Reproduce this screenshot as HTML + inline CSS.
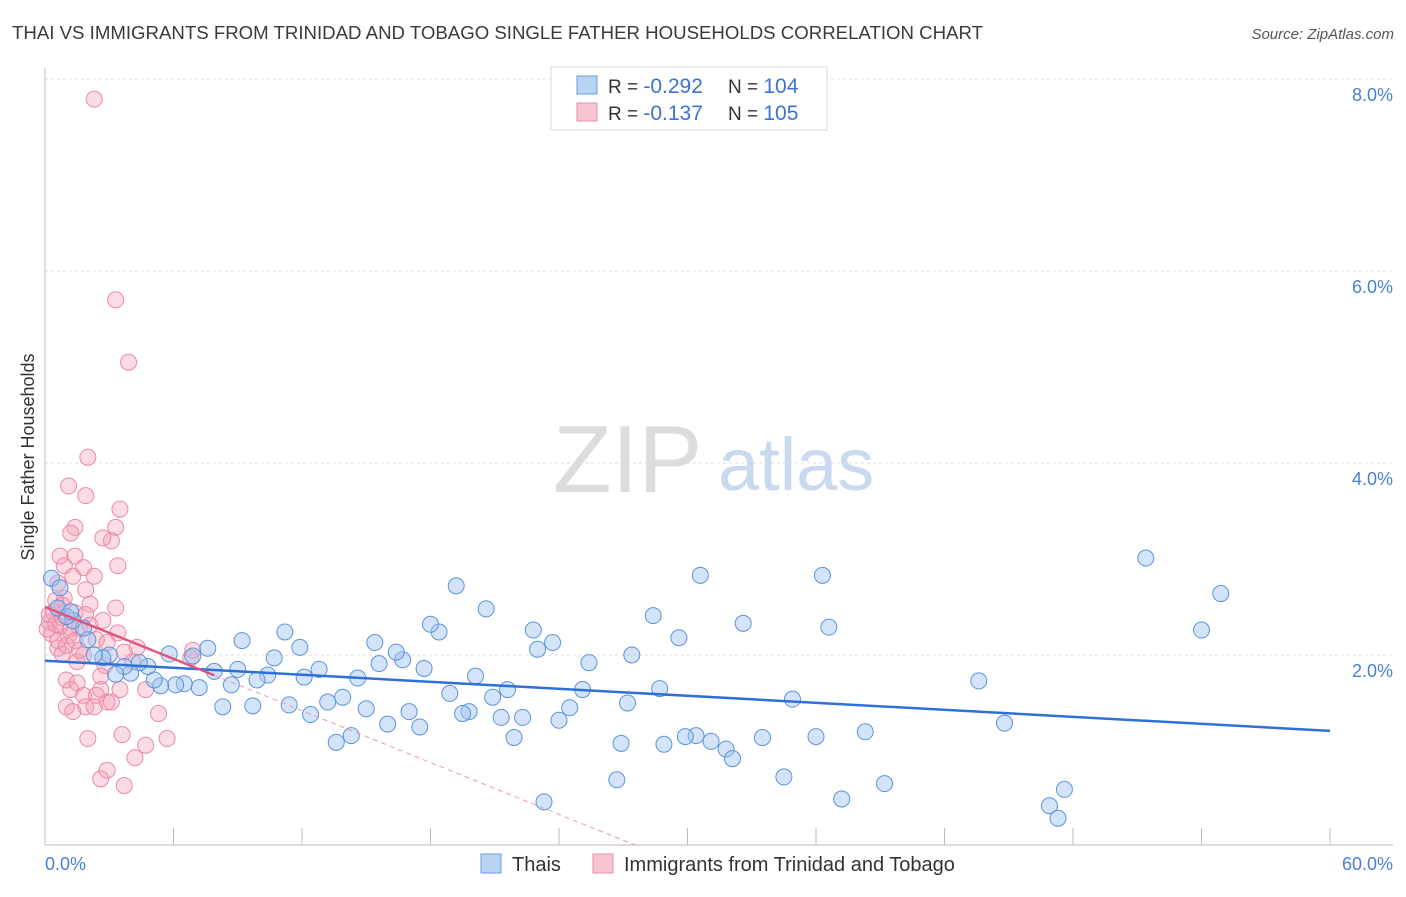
<!DOCTYPE html>
<html><head><meta charset="utf-8"><style>
body{margin:0;background:#fff;font-family:"Liberation Sans",sans-serif}
svg text{font-family:"Liberation Sans",sans-serif}
</style></head><body>
<svg id="chart" width="1406" height="892" xmlns="http://www.w3.org/2000/svg">
<text x="12" y="39" font-size="18" fill="#3a3a3a" textLength="971" lengthAdjust="spacingAndGlyphs">THAI VS IMMIGRANTS FROM TRINIDAD AND TOBAGO SINGLE FATHER HOUSEHOLDS CORRELATION CHART</text>
<text x="1394" y="39" font-size="15" fill="#555" font-style="italic" text-anchor="end">Source: ZipAtlas.com</text>
<g>
<text x="553" y="492" font-size="96" fill="#dcdcdc" font-family="Liberation Serif,serif">ZIP</text>
<text x="718" y="490" font-size="74" fill="#c9d9ef">atlas</text>
</g>
<g id="grid"></g>
<g id="axes"></g>
<g id="pts"></g>
<g id="trend"></g>
<text transform="translate(34,457) rotate(-90)" font-size="18" fill="#333" text-anchor="middle">Single Father Households</text>
<text x="45" y="870" font-size="18" fill="#4a7fd6">0.0%</text>
<text x="1393" y="870" font-size="18" fill="#4a7fd6" text-anchor="end">60.0%</text>
<g>
<rect x="551" y="67" width="276" height="63" fill="#fff" stroke="#d8d8d8"/>
<rect x="577" y="76" width="20" height="18" fill="#b9d3f3" stroke="#6b9be0"/>
<rect x="577" y="103" width="20" height="18" fill="#f8c6d3" stroke="#ea8ea8"/>
<text x="608" y="93" font-size="19" fill="#333">R = <tspan fill="#3b73d4" font-size="21">-0.292</tspan></text>
<text x="728" y="93" font-size="19" fill="#333">N = <tspan fill="#3b73d4" font-size="21">104</tspan></text>
<text x="608" y="120" font-size="19" fill="#333">R = <tspan fill="#3b73d4" font-size="21"> -0.137</tspan></text>
<text x="728" y="120" font-size="19" fill="#333">N = <tspan fill="#3b73d4" font-size="21">105</tspan></text>
</g>
<g>
<rect x="481" y="854" width="20" height="19" fill="#b9d3f3" stroke="#6b9be0"/>
<text x="512" y="871" font-size="20" fill="#333">Thais</text>
<rect x="593" y="854" width="20" height="19" fill="#f8c6d3" stroke="#ea8ea8"/>
<text x="624" y="871" font-size="20" fill="#333">Immigrants from Trinidad and Tobago</text>
</g>
</svg>
<script>
const yTicks=[2,4,6,8];
const yTickLabels=["2.0%","4.0%","6.0%","8.0%"];
const xTicks=[0,6,12,18,24,30,36,42,48,54,60];
const blueX=[51.4,54.9,54.0,43.6,44.8,47.6,46.9,47.3,36.3,36.6,38.3,39.2,37.2,36.0,34.9,34.5,33.5,30.6,32.6,29.6,28.4,27.4,28.7,27.2,30.4,29.9,31.1,31.8,32.1,28.9,26.9,26.7,25.4,25.1,24.5,24.0,23.3,23.7,23.0,22.8,22.3,21.9,21.6,21.3,20.9,20.6,20.1,19.8,19.5,18.9,19.2,18.4,18.0,17.7,17.5,17.0,16.7,16.4,15.6,15.4,16.0,15.0,14.6,13.9,13.2,14.3,13.6,12.8,12.1,12.4,11.9,11.2,11.4,10.7,10.4,9.9,9.7,9.2,9.0,8.7,8.3,7.9,7.6,7.2,6.9,6.5,6.1,5.8,5.4,5.1,4.8,4.4,4.0,3.7,3.3,3.0,2.7,2.3,2.0,1.8,1.3,1.0,0.6,0.3,0.7,1.2];
const blueY=[3.01,2.64,2.26,1.73,1.29,0.60,0.43,0.30,2.83,2.29,1.20,0.66,0.50,1.15,1.54,0.73,1.14,2.83,2.33,2.18,2.41,2.00,1.65,1.50,1.16,1.15,1.10,1.02,0.92,1.07,1.08,0.70,1.92,1.64,1.45,1.32,0.47,2.13,2.06,2.26,1.35,1.14,1.64,1.35,1.56,2.48,1.78,1.41,1.39,1.60,2.72,2.24,2.32,1.86,1.25,1.41,1.95,2.03,1.91,2.13,1.28,1.44,1.76,1.56,1.51,1.16,1.09,1.85,1.77,1.38,2.08,2.24,1.48,1.97,1.79,1.74,1.47,2.15,1.85,1.69,1.46,1.83,2.07,1.66,1.99,1.70,1.69,2.01,1.68,1.74,1.88,1.92,1.81,1.88,1.80,2.00,1.97,2.00,2.16,2.28,2.36,2.40,2.49,2.80,2.70,2.45];
const pinkX=[2.3,3.3,3.9,2.0,1.1,1.9,3.5,1.4,3.3,1.2,3.1,2.7,0.7,1.4,3.4,0.9,1.8,1.3,2.3,0.6,1.9,0.9,2.1,3.3,0.4,1.4,2.7,0.2,0.7,1.6,3.4,0.3,1.1,2.4,4.3,0.6,2.9,3.7,6.9,0.8,1.8,4.1,1.5,2.8,6.8,1.0,2.6,1.5,2.6,1.2,3.5,1.8,4.7,2.4,2.9,1.0,1.9,2.3,3.1,1.3,5.3,2.0,3.6,5.7,4.7,2.9,4.2,2.6,3.7,0.2,0.5,0.1,0.8,1.2,0.6,1.0,1.4,1.6,1.9,2.1,0.5,0.8];
const pinkY=[7.79,5.70,5.05,4.06,3.76,3.66,3.52,3.33,3.33,3.27,3.19,3.22,3.03,3.03,2.93,2.93,2.91,2.82,2.82,2.75,2.68,2.59,2.53,2.49,2.45,2.44,2.36,2.34,2.30,2.28,2.23,2.22,2.20,2.16,2.08,2.07,2.13,2.03,2.05,2.01,2.00,1.93,1.93,1.89,1.97,1.74,1.78,1.71,1.64,1.64,1.64,1.58,1.64,1.58,1.51,1.46,1.46,1.46,1.51,1.41,1.39,1.13,1.17,1.13,1.06,0.80,0.93,0.71,0.64,2.42,2.32,2.27,2.39,2.28,2.15,2.10,2.15,2.05,2.42,2.31,2.57,2.52];
const blueTrend=[1.94,1.21];      // value at x=0 and x=60
const pinkTrend=[2.50,-0.09];     // intercept, slope per %
const pinkSolidEnd=7.9;

const NS="http://www.w3.org/2000/svg";
const X0=45,X1=1330,Y0=847,PXY=96;
function sx(v){return X0+(v/60)*(X1-X0);}
function sy(v){return Y0-v*PXY;}
function mk(tag,attrs,parent){const e=document.createElementNS(NS,tag);for(const k in attrs)e.setAttribute(k,attrs[k]);parent.appendChild(e);return e;}
const grid=document.getElementById('grid'),axes=document.getElementById('axes'),pts=document.getElementById('pts'),trend=document.getElementById('trend');
yTicks.forEach((t,i)=>{
  const l=mk('line',{x1:45,x2:1393,y1:sy(t),y2:sy(t),stroke:'#dcdcdc','stroke-dasharray':'3,3'},grid);
  
  
  const tx=mk('text',{x:1393,y:sy(t)+22,'font-size':18,fill:'#4a7fd6','text-anchor':'end'},grid);
  tx.textContent=yTickLabels[i];
  
  
});
const ax=mk('line',{x1:45,x2:45,y1:68,y2:845,stroke:'#bbb'},axes);


const bx=mk('line',{x1:45,x2:1393,y1:845,y2:845,stroke:'#bbb'},axes);


xTicks.forEach(t=>{
  const l=mk('line',{x1:sx(t),x2:sx(t),y1:828,y2:845,stroke:'#bbb'},axes);
  
  
});
pinkX.forEach((x,i)=>{
  const c=mk('circle',{cx:sx(x),cy:sy(pinkY[i]),r:8,fill:'rgba(244,160,184,0.38)',stroke:'#ea8aa6','stroke-width':1},pts);
  
  
});
blueX.forEach((x,i)=>{
  const c=mk('circle',{cx:sx(x),cy:sy(blueY[i]),r:8,fill:'rgba(160,196,240,0.45)',stroke:'#5b93dc','stroke-width':1},pts);
  
  
});
const bl=mk('line',{x1:sx(0),y1:sy(blueTrend[0]),x2:sx(60),y2:sy(blueTrend[1]),stroke:'#2f6fd8','stroke-width':2.5},trend);


const xz=-pinkTrend[0]/pinkTrend[1];
const pd=mk('line',{x1:sx(pinkSolidEnd),y1:sy(pinkTrend[0]+pinkTrend[1]*pinkSolidEnd),x2:sx(xz),y2:sy(0),stroke:'#e89ab0','stroke-width':1,'stroke-dasharray':'5,4'},trend);


const pl=mk('line',{x1:sx(0),y1:sy(pinkTrend[0]),x2:sx(pinkSolidEnd),y2:sy(pinkTrend[0]+pinkTrend[1]*pinkSolidEnd),stroke:'#e0557e','stroke-width':2.5},trend);


</script>
</body></html>
